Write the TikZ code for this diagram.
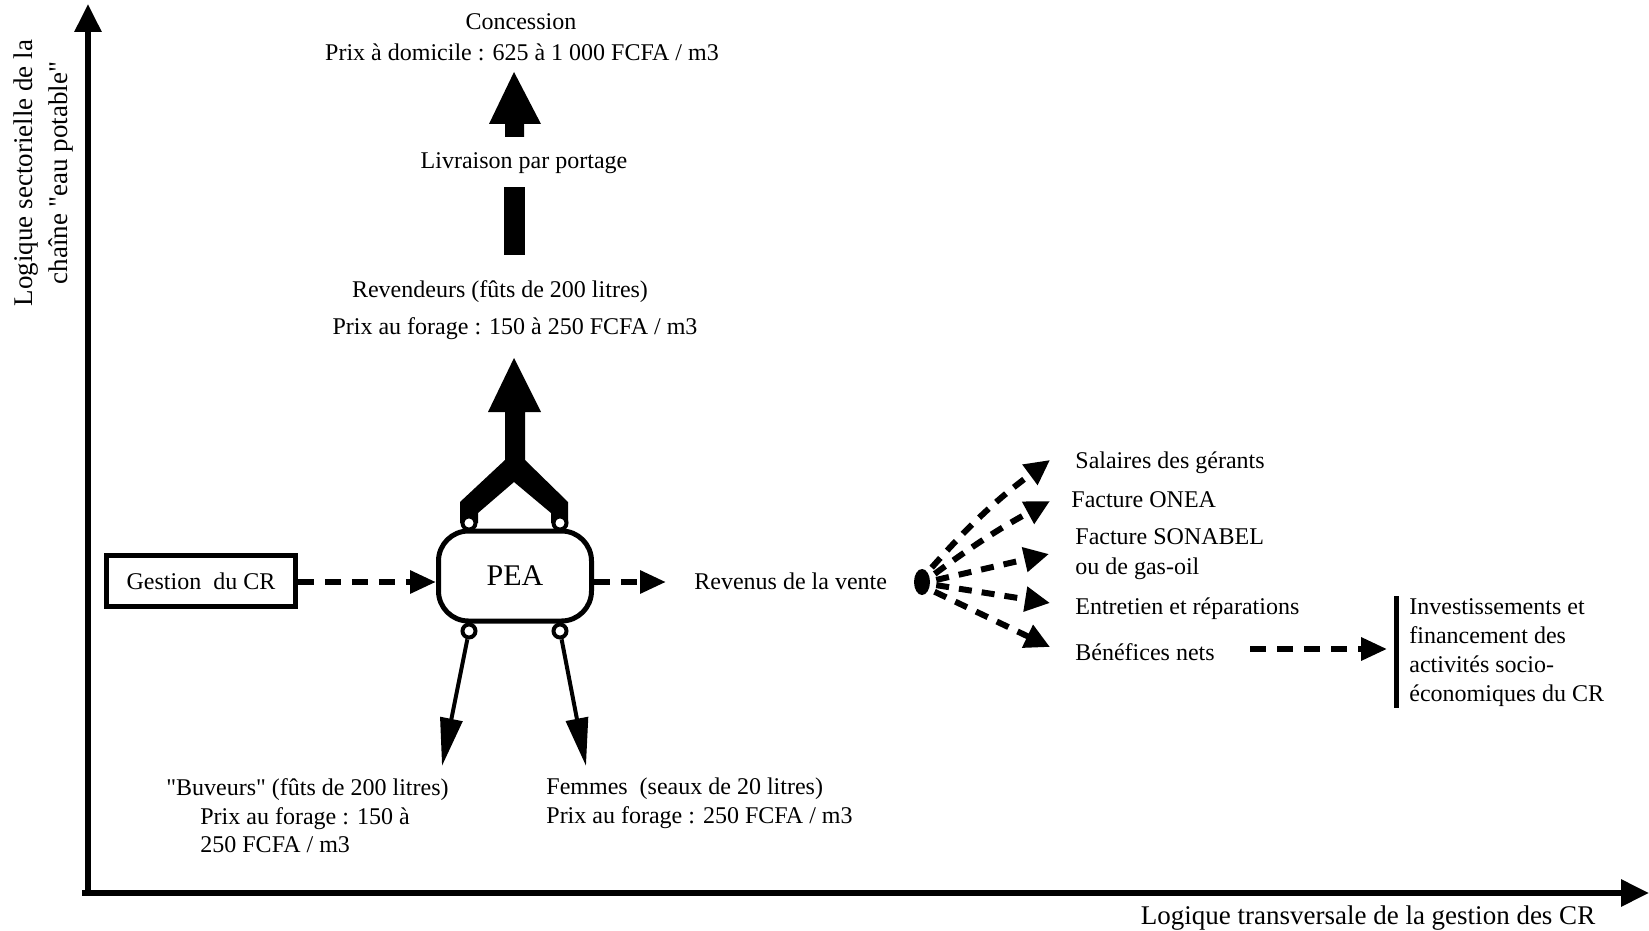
\documentclass[tikz,border=0pt]{standalone}
\usepackage{fontspec}
\setmainfont{Liberation Serif}[Ligatures=TeXOff]
\usetikzlibrary{arrows.meta,shapes.geometric}
\begin{document}
\begin{tikzpicture}[x=0.5pt,y=-0.5pt,
  txt/.style={inner sep=0pt, font=\fontsize{12}{14.5}\selectfont, yshift=-1.5pt},
  axislab/.style={inner sep=0pt, font=\fontsize{13.5}{17.5}\selectfont},
  axisarr/.style={line width=3pt, -{Triangle[length=14pt,width=13pt]}},
  dasharr/.style={line width=3pt, dash pattern=on 8pt off 5.5pt, -{Triangle[length=13pt,width=11pt]}},
  fanarr/.style={line width=3pt, dash pattern=on 6.5pt off 5pt, -{Triangle[length=12.5pt,width=12pt]}},
  solidarr/.style={line width=2pt, -{Triangle[length=24pt,width=11pt]}},
  ring/.style={circle, draw, line width=2pt, fill=white, minimum size=6.5pt, inner sep=0pt},
  blockfill/.style={fill=black}
]
\useasboundingbox (0,0) rectangle (1649,931);

% axes
\coordinate (orig) at (88,893);
\coordinate (ytop) at (88,4);
\coordinate (xstart) at (82,893);
\coordinate (xend) at (1649,893);
\draw[axisarr] (orig) -- (ytop);
\draw[axisarr] (xstart) -- (xend);
\node[axislab, rotate=90, align=center] (ylab) at (44,173) {Logique sectorielle de la\\chaîne "eau potable"};
\node[axislab] (xlab) at (1368,918) {Logique transversale de la gestion des CR};

% top chain
\node[txt] (conc) at (521,19) {Concession};
\node[txt] (dom) at (522,49) {Prix à domicile : 625 à 1 000 FCFA / m3};
\fill[blockfill] (505,137) -- (505,124) -- (489,124) -- (514,72) -- (541,124) -- (524,124) -- (524,137) -- cycle;
\node[txt] (livr) at (524,160) {Livraison par portage};
\fill[blockfill] (504,187) rectangle (525,255);
\node[txt] (rev) at (500,289) {Revendeurs (fûts de 200 litres)};
\node[txt] (revp) at (515,326) {Prix au forage : 150 à 250 FCFA / m3};

% Y-shaped arrow
\fill[blockfill] (460,523) -- (460,502) -- (505,460) -- (505,412) -- (488,412) -- (514,358) -- (541,412) -- (525,412) -- (525,460) -- (568,502) -- (568,523) -- (551,523) -- (551,513) -- (514,482) -- (478,513) -- (478,523) -- cycle;

% PEA
\node[draw, line width=2.5pt, rounded corners=15pt, minimum width=76.5pt, minimum height=45pt, inner sep=0pt,
      font=\fontsize{15}{18}\selectfont] (pea) at (515,576) {PEA};
\node[ring] (rtl) at (469,523) {};
\node[ring] (rtr) at (560,523) {};
\node[ring] (rbl) at (469,631) {};
\node[ring] (rbr) at (560,631) {};

% Gestion
\node[txt, yshift=1.5pt, draw, line width=2.25pt, minimum width=94.5pt, minimum height=25.5pt] (gest) at (201,581) {Gestion\ \ du CR};
\coordinate (ly) at (0,582);
\draw[dasharr] (gest.east |- ly) -- (pea.west |- ly);

% Revenus
\node[txt, anchor=west] (revenus) at (694,578) {Revenus de la vente};
\coordinate (revin) at (666,582);
\draw[dasharr] (pea.east |- ly) -- (revin);

% bottom outputs
\coordinate (buvtip) at (442,766);
\coordinate (femtip) at (586,766);
\draw[solidarr] (rbl) -- (buvtip);
\draw[solidarr] (rbr) -- (femtip);
\node[txt, align=left, anchor=west, font=\fontsize{12}{14.25}\selectfont] (buv) at (166,813)
  {"Buveurs" (fûts de 200 litres)\\\hspace*{17pt}Prix au forage : 150 à\\\hspace*{17pt}250 FCFA / m3};
\node[txt, align=left, anchor=west] (fem) at (546,800)
  {Femmes\ \ (seaux de 20 litres)\\Prix au forage : 250 FCFA / m3};

% fan
\node[fill, ellipse, minimum width=8pt, minimum height=13pt, inner sep=0pt] (blob) at (922,582) {};
\node[txt, anchor=west] (sal) at (1075,460) {Salaires des gérants};
\node[txt, anchor=west] (onea) at (1071,497) {Facture ONEA};
\node[txt, anchor=west, align=left, font=\fontsize{12}{15}\selectfont] (sona) at (1075,551) {Facture SONABEL\\ou de gas-oil};
\node[txt, anchor=west] (entr) at (1075,606) {Entretien et réparations};
\node[txt, anchor=west] (bene) at (1075,649) {Bénéfices nets};
\coordinate (t1) at (1050,460);
\coordinate (t2) at (1050,501);
\coordinate (t3) at (1049,554);
\coordinate (t4) at (1050,603);
\coordinate (t5) at (1050,647);
\draw[fanarr, shorten <=3pt] (blob.60) to[bend left=6] (t1);
\draw[fanarr, shorten <=3pt] (blob.30) to[bend left=4] (t2);
\draw[fanarr, shorten <=3pt] (blob.5) -- (t3);
\draw[fanarr, shorten <=3pt] (blob.-15) -- (t4);
\draw[fanarr, shorten <=3pt] (blob.-45) -- (t5);

% benefices -> investissements
\node[fill, inner sep=0pt, minimum width=2.5pt, minimum height=56pt] (bar) at (1396,652) {};
\coordinate (benl) at (0,649);
\coordinate (benstart) at ([xshift=17.5pt]bene.east);
\draw[dasharr, shorten >=3pt] (benstart |- benl) -- (bar.west |- benl);
\node[txt, anchor=west, align=left] (inv) at (1409,650)
  {Investissements et\\financement des\\activités socio-\\économiques du CR};
\end{tikzpicture}
\end{document}
